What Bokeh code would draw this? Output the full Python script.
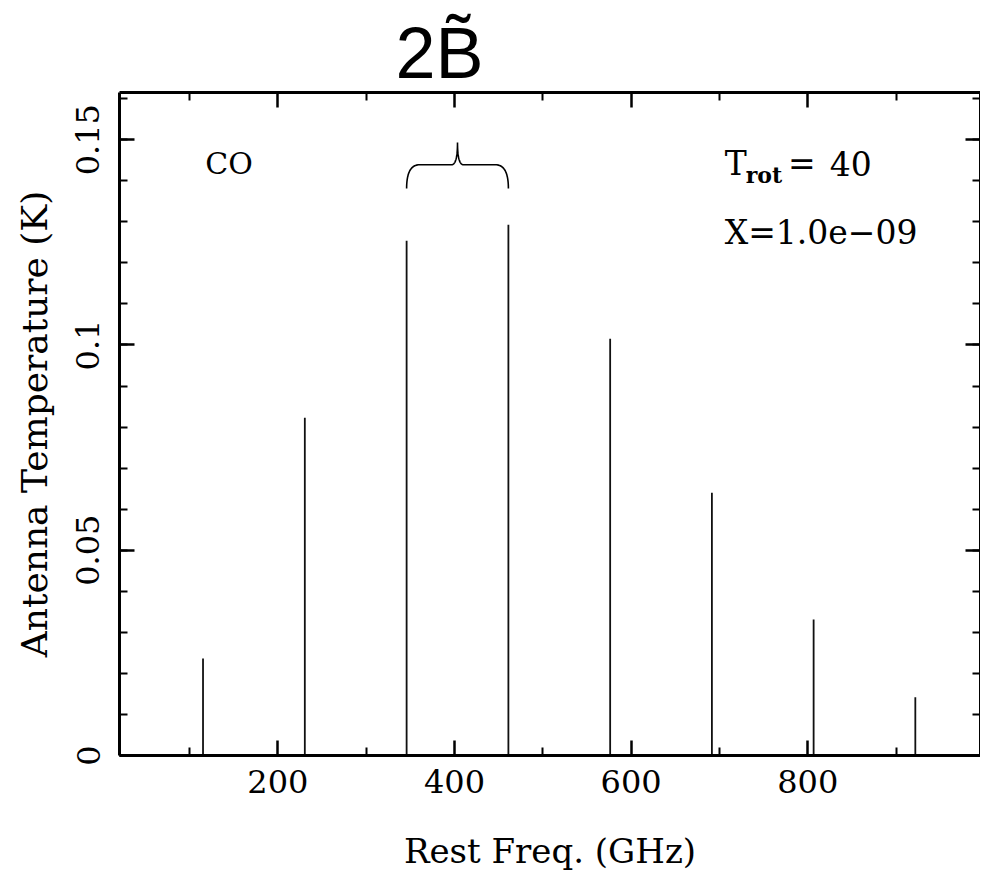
import numpy as np
from bokeh.plotting import figure
from bokeh.models import (LinearAxis, FixedTicker, CustomJSTickFormatter, Label,
                          ColumnDataSource, Title)
from bokeh.embed import file_html
from bokeh.resources import INLINE

# ---- data (CO rotational ladder) ----
freq_ghz = [115.27, 230.54, 345.80, 461.04, 576.27, 691.47, 806.65, 921.80]
antenna_temp_k = [0.0236, 0.0823, 0.1254, 0.1293, 0.1015, 0.0640, 0.0331, 0.0142]
x_major = [200, 400, 600, 800]
x_minor = [100, 300, 500, 700, 900]
y_major = [0, 0.05, 0.1, 0.15]
y_minor = [round(0.01 * i, 2) for i in range(0, 17)]

SERIF = "DejaVu Serif"

p = figure(width=980, height=876, x_range=(20.7, 995.6), y_range=(0, 0.1615),
           output_backend="svg", toolbar_location=None,
           min_border_left=119, min_border_top=92, min_border_bottom=121,
           min_border_right=0)
p.grid.visible = False
p.outline_line_color = None
p.background_fill_color = "white"
p.border_fill_color = "white"

src = ColumnDataSource(dict(x=freq_ghz, y0=[0] * len(freq_ghz), y1=antenna_temp_k))
p.segment(x0="x", y0="y0", x1="x", y1="y1", source=src, line_color="#111111", line_width=1.8)


def style_axis(ax, ticks, minors, labels=True):
    ax.ticker = FixedTicker(ticks=ticks, minor_ticks=minors)
    ax.axis_line_width = 3
    ax.axis_line_color = "black"
    ax.major_tick_in = 15
    ax.major_tick_out = 0
    ax.minor_tick_in = 8
    ax.minor_tick_out = 0
    ax.major_tick_line_width = 2.5
    ax.minor_tick_line_width = 2
    ax.major_tick_line_color = "black"
    ax.minor_tick_line_color = "black"
    if not labels:
        ax.major_label_text_font_size = "0px"
        ax.major_label_standoff = 0
        ax.axis_label = None


xb = p.xaxis[0]
style_axis(xb, x_major, x_minor)
xb.major_label_text_font = SERIF
xb.major_label_text_font_size = "32px"
xb.major_label_text_color = "black"
xb.major_label_standoff = 14
xb.axis_label = "Rest Freq. (GHz)"
xb.axis_label_text_font = SERIF
xb.axis_label_text_font_size = "34px"
xb.axis_label_text_font_style = "normal"
xb.axis_label_text_color = "black"
xb.axis_label_standoff = 35

yl = p.yaxis[0]
style_axis(yl, y_major, y_minor)
yl.major_label_orientation = "vertical"
yl.formatter = CustomJSTickFormatter(code="return parseFloat(tick.toFixed(3)).toString();")
yl.major_label_text_font = SERIF
yl.major_label_text_font_size = "32px"
yl.major_label_text_color = "black"
yl.major_label_standoff = 20
yl.axis_label = "Antenna Temperature (K)"
yl.axis_label_text_font = SERIF
yl.axis_label_text_font_size = "36px"
yl.axis_label_text_font_style = "normal"
yl.axis_label_text_color = "black"
yl.axis_label_standoff = 19

top_ax = LinearAxis()
style_axis(top_ax, x_major, x_minor, labels=False)
p.add_layout(top_ax, "above")
right_ax = LinearAxis()
style_axis(right_ax, y_major, y_minor, labels=False)
p.add_layout(right_ax, "right")

# big "2B~" heading above the frame
p.add_layout(Title(text="2B\u0303", text_font="Liberation Sans", text_font_size="72px",
                   text_font_style="normal", text_color="black", align="left",
                   offset=276, standoff=0), "above")

# ---- brace spanning the J=3-2 and J=4-3 lines ----
fa, fb = freq_ghz[2], freq_ghz[3]
fm = 0.5 * (fa + fb)
y_end, y_mid, y_tip = 0.1381, 0.1439, 0.1493
dx1, dx2 = 14.6, 6.8
t = np.linspace(0, 1, 25)


def quad(p0, c, p1):
    return ((1 - t) ** 2 * p0[0] + 2 * (1 - t) * t * c[0] + t ** 2 * p1[0],
            (1 - t) ** 2 * p0[1] + 2 * (1 - t) * t * c[1] + t ** 2 * p1[1])


segs = [
    quad((fa, y_end), (fa, y_mid), (fa + dx1, y_mid)),
    quad((fm - dx2, y_mid), (fm, y_mid), (fm, y_tip)),
    quad((fm, y_tip), (fm, y_mid), (fm + dx2, y_mid)),
    quad((fb - dx1, y_mid), (fb, y_mid), (fb, y_end)),
]
bx = np.concatenate([s[0] for s in segs])
by = np.concatenate([s[1] for s in segs])
p.line(bx, by, line_color="black", line_width=1.6)

# ---- annotations ----
p.add_layout(Label(x=117.8, y=0.1441, text="CO", text_font=SERIF, text_font_size="30px",
                   text_baseline="alphabetic", text_color="black"))
p.add_layout(Label(x=705.9, y=0.1441, text="T", text_font=SERIF, text_font_size="33px",
                   text_baseline="alphabetic", text_color="black"))
p.add_layout(Label(x=729.7, y=0.1413, text="rot", text_font=SERIF, text_font_size="22px",
                   text_baseline="alphabetic", text_color="black", text_font_style="bold"))
p.add_layout(Label(x=777.5, y=0.1441, text="=", text_font=SERIF, text_font_size="33px",
                   text_baseline="alphabetic", text_color="black"))
p.add_layout(Label(x=825.0, y=0.1441, text="40", text_font=SERIF, text_font_size="33px",
                   text_baseline="alphabetic", text_color="black"))
p.add_layout(Label(x=705.9, y=0.1275, text="X=1.0e\u221209", text_font=SERIF,
                   text_font_size="33px", text_baseline="alphabetic", text_color="black"))

open("out.html", "w").write(file_html(p, INLINE))
